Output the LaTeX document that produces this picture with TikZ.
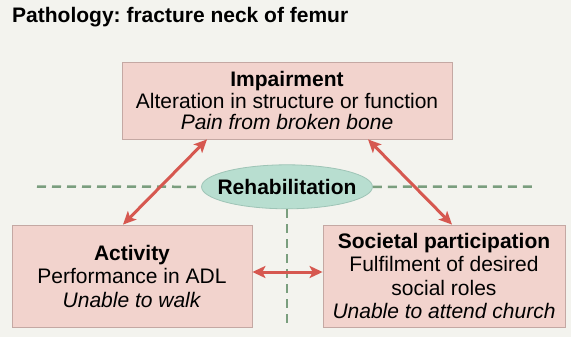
\documentclass[tikz,border=0pt]{standalone}
\usepackage{fontspec}
\setmainfont{Liberation Sans}
\usetikzlibrary{shapes.geometric, arrows.meta}
\usetikzlibrary{positioning}
\frenchspacing

\definecolor{bgcol}{RGB}{243,243,238}
\definecolor{boxpink}{RGB}{242,211,205}
\definecolor{boxline}{RGB}{196,168,163}
\definecolor{rehabfill}{RGB}{184,222,208}
\definecolor{rehabline}{RGB}{158,196,182}
\definecolor{linkred}{RGB}{214,88,80}
\definecolor{dashgreen}{RGB}{122,158,126}

\tikzset{
    icfbox/.style={draw=boxline, line width=0.8pt, fill=boxpink, align=center, inner sep=2pt,
        font=\fontsize{21}{23.5}\selectfont},
    twoway/.style={{Stealth[length=13pt,width=12pt,inset=3pt]}-{Stealth[length=13pt,width=12pt,inset=3pt]},
        line width=3pt, draw=linkred},
    divider/.style={draw=dashgreen, line width=2.5pt, dash pattern=on 9pt off 6pt}
}

\begin{document}
\begin{tikzpicture}[x=1pt,y=-1pt]
        \fill[bgcol] (0,0) rectangle (571,337);

        \node[anchor=base west, inner sep=0pt, font=\bfseries\fontsize{21}{21}\selectfont] (title) at (12,23) {Pathology: fracture neck of femur};

        \node[icfbox, minimum width=330pt, minimum height=77pt, font=\fontsize{21}{21.5}\selectfont] (imp) at (287,100.5) {\textbf{Impairment}\\Alteration in structure or function\\\textit{Pain from broken bone}};
        \node[ellipse, draw=rehabline, line width=0.8pt, fill=rehabfill, minimum width=170pt, minimum height=44pt, inner xsep=-9pt, inner ysep=0pt, font=\bfseries\fontsize{21}{21}\selectfont, below=25pt of imp] (reh) {Rehabilitation};
        \node[icfbox, minimum width=240pt, minimum height=102pt] (act) at (132,276) {\textbf{Activity}\\Performance in ADL\\\textit{Unable to walk}};
        \node[icfbox, minimum width=242pt, minimum height=102pt] (soc) at (444,276) {\textbf{Societal participation}\\Fulfilment of desired\\social roles\\\textit{Unable to attend church}};

        \coordinate (hl) at (37,186.5);
        \coordinate (hr) at (537,186.5);
        \coordinate (vb) at (287,323);

        % dashed dividers
        \draw[divider] (hl) -- (reh.west);
        \draw[divider] (reh.east) -- (hr);
        \draw[divider] (reh.south) -- (vb);

        % links between the levels
        \draw[twoway] ([xshift=-80pt]imp.south) -- ([xshift=-9pt]act.north);
        \draw[twoway] ([xshift=81pt]imp.south) -- ([xshift=8pt]soc.north);
        \draw[twoway] ([yshift=4pt]act.east) -- ([yshift=4pt]soc.west);
\end{tikzpicture}
\end{document}
